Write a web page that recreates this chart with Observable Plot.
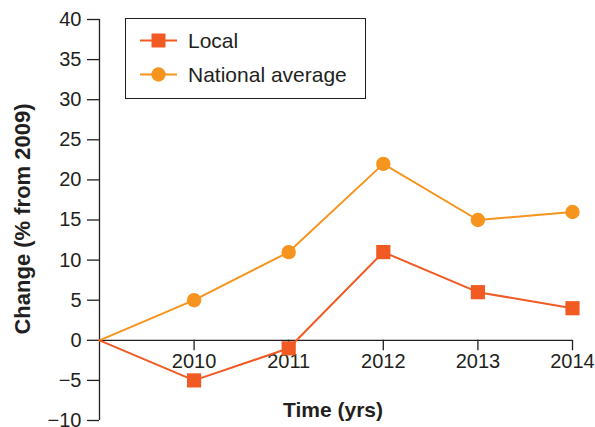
<!DOCTYPE html>
<html>
<head>
<meta charset="utf-8">
<script src="https://cdn.jsdelivr.net/npm/d3@7"></script>
<script src="https://cdn.jsdelivr.net/npm/@observablehq/plot@0.6"></script>
<style>
  html, body { margin: 0; padding: 0; background: #fff; }
  #wrap { position: relative; width: 595px; height: 427px; font-family: "Liberation Sans", Arial, sans-serif; color: #231f20; }
  #legend { position: absolute; left: 125px; top: 18px; width: 239px; height: 79px; border: 1.5px solid #231f20; background: #fff; }
  .row { position: absolute; left: 14px; display: flex; align-items: center; font-size: 21px; line-height: 23px; }
  .row svg { margin-right: 11px; }
</style>
</head>
<body>
<div id="wrap"></div>
<script>
const years = [2009, 2010, 2011, 2012, 2013, 2014];
const local = [0, -5, -1, 11, 6, 4];
const national = [0, 5, 11, 22, 15, 16];
const xTickYears = [2010, 2011, 2012, 2013, 2014];
const yTicks = [-10, -5, 0, 5, 10, 15, 20, 25, 30, 35, 40];
const seriesNames = ["Local", "National average"];
const colors = ["#f15a22", "#f7941d"];

const localRows = years.map((y, i) => ({year: y, value: local[i]}));
const nationalRows = years.map((y, i) => ({year: y, value: national[i]}));
const axisColor = "#231f20";

const chart = Plot.plot({
  width: 595,
  height: 427,
  marginLeft: 99,
  marginRight: 23,
  marginTop: 19,
  marginBottom: 7,
  style: {fontFamily: "'Liberation Sans', Arial, sans-serif", fontSize: "20px", color: axisColor, background: "#fff", overflow: "visible"},
  x: {domain: [2009, 2014], axis: null},
  y: {domain: [-10, 40], axis: null},
  marks: [
    Plot.ruleX([2009], {y1: -10, y2: 40, stroke: axisColor, strokeWidth: 1.3}),
    Plot.ruleY([0], {x1: 2009, x2: 2014, stroke: axisColor, strokeWidth: 1.3}),
    Plot.ruleX(xTickYears, {x: d => d, y1: 0, y2: -1.3, stroke: axisColor, strokeWidth: 1.3}),
    Plot.axisY(yTicks, {anchor: "left", tickSize: 12, tickPadding: 6, fontSize: 20, label: null, stroke: axisColor, strokeWidth: 1.3, fill: axisColor, tickFormat: d => d < 0 ? "\u2212" + Math.abs(d) : String(d)}),
    Plot.text(xTickYears, {x: d => d, y: 0, dy: 21, text: d => String(d), fontSize: 20, fill: axisColor}),
    Plot.text(["Change (% from 2009)"], {frameAnchor: "left", textAnchor: "middle", lineAnchor: "middle", dx: -77, dy: -1, rotate: -90, fontSize: 22, fontWeight: "bold", fill: axisColor}),
    Plot.text(["Time (yrs)"], {frameAnchor: "bottom", textAnchor: "middle", lineAnchor: "middle", dx: -3, dy: -10, fontSize: 21, fontWeight: "bold", fill: axisColor}),
    Plot.line(nationalRows, {x: "year", y: "value", stroke: colors[1], strokeWidth: 2}),
    Plot.line(localRows, {x: "year", y: "value", stroke: colors[0], strokeWidth: 2}),
    Plot.dot(nationalRows.slice(1), {x: "year", y: "value", r: 7.2, fill: colors[1], symbol: "circle"}),
    Plot.dot(localRows.slice(1), {x: "year", y: "value", r: 8, fill: colors[0], symbol: "square"})
  ]
});

const wrap = document.getElementById("wrap");
wrap.appendChild(chart);

const legend = document.createElement("div");
legend.id = "legend";
const rowTops = [10, 44];
seriesNames.forEach((name, i) => {
  const row = document.createElement("div");
  row.className = "row";
  row.style.top = rowTops[i] + "px";
  const marker = i === 0
    ? `<rect x="11.5" y="4.5" width="14" height="14" fill="${colors[i]}"/>`
    : `<circle cx="18.5" cy="11.5" r="7.2" fill="${colors[i]}"/>`;
  row.innerHTML = `<svg width="37" height="23"><line x1="0" x2="37" y1="11.5" y2="11.5" stroke="${colors[i]}" stroke-width="2"/>${marker}</svg><span>${name}</span>`;
  legend.appendChild(row);
});
wrap.appendChild(legend);
</script>
</body>
</html>
